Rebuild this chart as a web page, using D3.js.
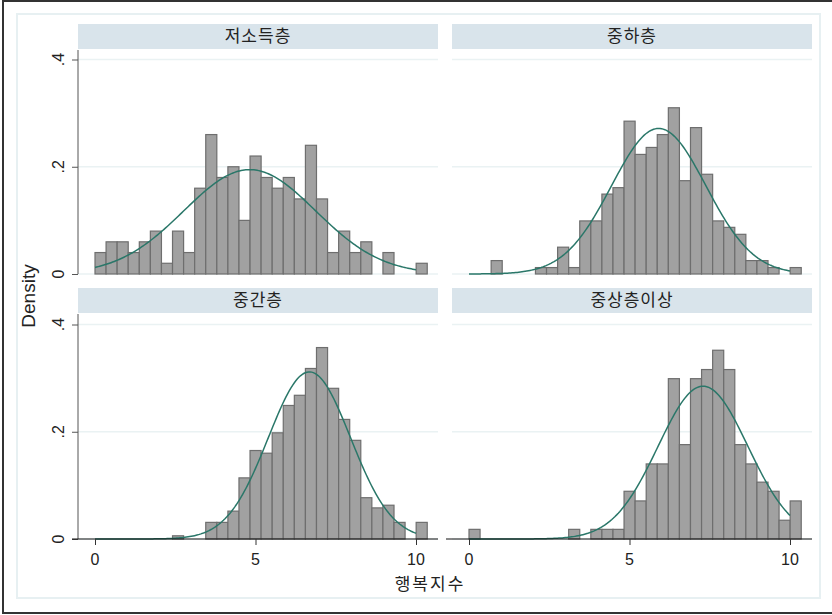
<!DOCTYPE html>
<html>
<head>
<meta charset="utf-8">
<script src="https://cdn.jsdelivr.net/npm/d3@7"></script>
<style>
  body { margin: 0; background: #fff; }
  text { font-family: "Liberation Sans", Arial, sans-serif; fill: #222; }
  .kr { font-family: "Noto Sans CJK KR", sans-serif; }
</style>
</head>
<body>
<div id="chart"></div>
<script>
// histogram of 행복지수 by group, with normal density overlay

var groups = ['저소득층', '중하층', '중간층', '중상층이상'];

// bins start at 0, common width for every panel
var binStart = 0,
	binWidth = 0.345;

// density for each of the 30 bins
var lowIncome = [0.04, 0.06, 0.06, 0.04, 0.06, 0.08, 0.02, 0.08, 0.04, 0.16,
	0.26, 0.18, 0.20, 0.10, 0.22, 0.18, 0.16, 0.18, 0.14, 0.24,
	0.14, 0.04, 0.08, 0.04, 0.06, 0, 0.04, 0, 0, 0.02];
var lowerMiddle = [0, 0, 0.025, 0, 0, 0, 0.012, 0.012, 0.050, 0.012,
	0.099, 0.099, 0.149, 0.161, 0.285, 0.223, 0.236, 0.260, 0.310, 0.174,
	0.273, 0.186, 0.099, 0.087, 0.074, 0.025, 0.025, 0.012, 0, 0.012];
var middle = [0, 0, 0, 0, 0, 0, 0, 0.006, 0, 0,
	0.031, 0.031, 0.052, 0.114, 0.165, 0.160, 0.198, 0.249, 0.268, 0.318,
	0.357, 0.281, 0.223, 0.184, 0.077, 0.058, 0.063, 0.031, 0, 0.031];
var upperMiddle = [0.018, 0, 0, 0, 0, 0, 0, 0, 0, 0.018,
	0, 0.018, 0.018, 0.018, 0.089, 0.071, 0.140, 0.140, 0.299, 0.176,
	0.299, 0.316, 0.352, 0.316, 0.176, 0.140, 0.106, 0.089, 0.035, 0.071];

// normal overlay parameters (mean, sd) per group, curve over data range
var normMean = [4.82, 5.91, 6.68, 7.29],
	normSd = [2.05, 1.47, 1.28, 1.40],
	curveRange = [0, 10];

var xTicks = [0, 5, 10],
	yTicks = [0, 0.2, 0.4],
	yTickLabels = ['0', '.2', '.4'];

var series = [lowIncome, lowerMiddle, middle, upperMiddle];

var width = 832,
	height = 615,
	plotWidth = 360,
	stripHeight = 25,
	colLeft = [78, 452],
	stripTop = [24, 288],
	plotBottom = [274, 539];

var svg = d3.select('#chart').append('svg')
	.attr('width', width)
	.attr('height', height);

// outer frame and inner region
svg.append('rect')
	.attr('x', 3).attr('y', 1)
	.attr('width', 840).attr('height', 612)
	.attr('fill', '#fff')
	.attr('stroke', '#333')
	.attr('stroke-width', 2);

svg.append('rect')
	.attr('x', 17).attr('y', 14)
	.attr('width', 803).attr('height', 584)
	.attr('fill', '#fff')
	.attr('stroke', '#e7f0f2')
	.attr('stroke-width', 2);

var normalPdf = function(x, m, s) {
	return Math.exp(-0.5 * Math.pow((x - m) / s, 2)) / (s * Math.sqrt(2 * Math.PI));
};

groups.forEach(function(name, i) {
	var col = i % 2,
		row = Math.floor(i / 2),
		left = colLeft[col],
		bottom = plotBottom[row],
		top = stripTop[row] + stripHeight + 1;

	var xScale = d3.scaleLinear()
		.domain([0, 10])
		.range([left + 17, left + 338]);

	var yScale = d3.scaleLinear()
		.domain([0, 0.4])
		.range([bottom, bottom - 214.5]);

	var g = svg.append('g');

	// strip
	g.append('rect')
		.attr('x', left)
		.attr('y', stripTop[row])
		.attr('width', plotWidth)
		.attr('height', stripHeight)
		.attr('fill', '#d9e4eb');

	g.append('text')
		.attr('class', 'kr')
		.attr('x', left + plotWidth / 2)
		.attr('y', stripTop[row] + 18)
		.attr('text-anchor', 'middle')
		.attr('font-size', 17)
		.attr('letter-spacing', 1)
		.text(name);

	// grid lines
	g.selectAll('.grid')
		.data(yTicks)
		.enter().append('line')
		.attr('class', 'grid')
		.attr('x1', left)
		.attr('x2', left + plotWidth)
		.attr('y1', function(d) { return yScale(d); })
		.attr('y2', function(d) { return yScale(d); })
		.attr('stroke', '#eaf2f3')
		.attr('stroke-width', 1.5);

	// bars
	g.selectAll('.bar')
		.data(series[i].map(function(v, k) { return { k: k, v: v }; })
			.filter(function(d) { return d.v > 0; }))
		.enter().append('rect')
		.attr('class', 'bar')
		.attr('x', function(d) { return xScale(binStart + d.k * binWidth); })
		.attr('y', function(d) { return yScale(d.v); })
		.attr('width', xScale(binWidth) - xScale(0))
		.attr('height', function(d) { return yScale(0) - yScale(d.v); })
		.attr('fill', '#a1a1a1')
		.attr('stroke', '#6e6e6e')
		.attr('stroke-width', 1.2);

	// normal curve
	var xs = d3.range(curveRange[0], curveRange[1] + 0.001, 0.05);
	var line = d3.line()
		.x(function(d) { return xScale(d); })
		.y(function(d) { return yScale(normalPdf(d, normMean[i], normSd[i])); });

	g.append('path')
		.datum(xs)
		.attr('d', line)
		.attr('fill', 'none')
		.attr('stroke', '#2a7769')
		.attr('stroke-width', 1.5);

	// y axis on left column only
	if (col === 0) {
		var yAxis = d3.axisLeft(yScale)
			.tickValues(yTicks)
			.tickSize(6)
			.tickFormat('');
		var yg = g.append('g')
			.attr('transform', 'translate(' + left + ',0)')
			.call(yAxis);
		yg.select('.domain').attr('d', 'M0,' + top + 'V' + bottom).attr('stroke', '#555');
		yg.selectAll('.tick line').attr('stroke', '#555');

		g.selectAll('.ylab')
			.data(yTicks)
			.enter().append('text')
			.attr('class', 'ylab')
			.attr('transform', function(d) { return 'translate(64,' + yScale(d) + ') rotate(-90)'; })
			.attr('text-anchor', 'middle')
			.attr('font-size', 16)
			.text(function(d, k) { return yTickLabels[k]; });
	}

	// x axis on bottom row only
	if (row === 1) {
		var xAxis = d3.axisBottom(xScale)
			.tickValues(xTicks)
			.tickSize(6)
			.tickFormat('');
		var xg = g.append('g')
			.attr('transform', 'translate(0,' + bottom + ')')
			.call(xAxis);
		xg.select('.domain').attr('d', 'M' + (left - 6) + ',0H' + (left + plotWidth)).attr('stroke', '#111');
		xg.selectAll('.tick line').attr('stroke', '#333');

		g.selectAll('.xlab')
			.data(xTicks)
			.enter().append('text')
			.attr('class', 'xlab')
			.attr('x', function(d) { return xScale(d); })
			.attr('y', bottom + 26)
			.attr('text-anchor', 'middle')
			.attr('font-size', 16)
			.text(function(d) { return d; });
	}
});

// axis titles
svg.append('text')
	.attr('transform', 'translate(35,296) rotate(-90)')
	.attr('text-anchor', 'middle')
	.attr('font-size', 19)
	.text('Density');

svg.append('text')
	.attr('class', 'kr')
	.attr('x', 430)
	.attr('y', 590)
	.attr('text-anchor', 'middle')
	.attr('font-size', 17)
	.attr('letter-spacing', 2)
	.text('행복지수');
</script>
</body>
</html>
